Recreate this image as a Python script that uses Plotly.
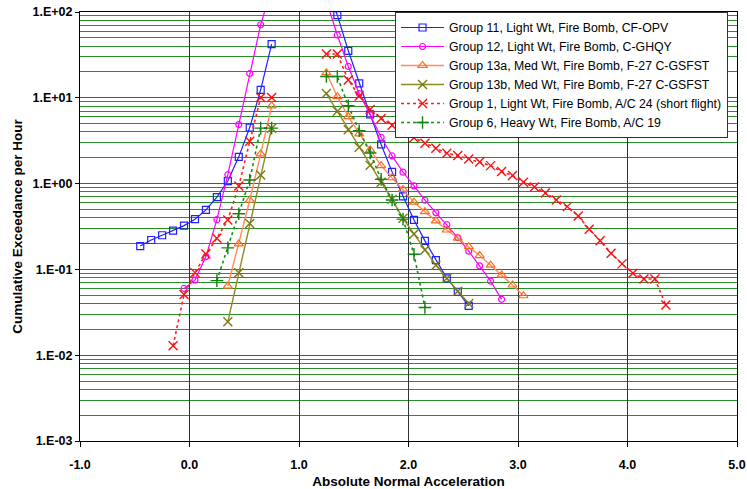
import plotly.graph_objects as go

# ---------------- data ----------------
g11_left_x = [-0.45, -0.35, -0.25, -0.15, -0.05, 0.05, 0.15, 0.25, 0.35, 0.45, 0.55, 0.65, 0.75]
g11_left_y = [0.187, 0.22, 0.25, 0.283, 0.324, 0.385, 0.494, 0.694, 1.07, 2.05, 4.5, 12.4, 42.3]
g11_right_x = [1.25, 1.35, 1.45, 1.55, 1.65, 1.75, 1.85, 1.95, 2.05, 2.15, 2.25, 2.35, 2.45, 2.55]
g11_right_y = [200, 92, 35.3, 14.7, 6.4, 2.86, 1.37, 0.71, 0.377, 0.215, 0.128, 0.0787, 0.0549, 0.0375]

g12_left_x = [-0.05, 0.05, 0.15, 0.25, 0.35, 0.45, 0.55, 0.65, 0.75]
g12_left_y = [0.060, 0.075, 0.141, 0.38, 1.27, 4.88, 19.2, 71, 190]
g12_right_x = [1.25, 1.35, 1.45, 1.55, 1.65, 1.75, 1.85, 1.95, 2.05, 2.15, 2.25, 2.35, 2.45,
               2.55, 2.65, 2.75, 2.85]
g12_right_y = [135, 54, 23.2, 11.2, 6.3, 3.47, 2.1, 1.36, 0.94, 0.64, 0.459, 0.332, 0.235,
               0.163, 0.110, 0.073, 0.0448]

g13a_left_x = [0.35, 0.45, 0.55, 0.65, 0.75]
g13a_left_y = [0.064, 0.198, 0.64, 2.22, 8.07]
g13a_right_x = [1.25, 1.35, 1.45, 1.55, 1.65, 1.75, 1.85, 1.95, 2.05, 2.15, 2.25, 2.35, 2.45,
                2.55, 2.65, 2.75, 2.85, 2.95, 3.05]
g13a_right_y = [19.6, 10.3, 6.05, 3.8, 2.47, 1.62, 1.17, 0.855, 0.607, 0.471, 0.367, 0.288, 0.231,
                0.184, 0.145, 0.112, 0.086, 0.0658, 0.0493]

g13b_left_x = [0.35, 0.45, 0.55, 0.65, 0.75]
g13b_left_y = [0.0245, 0.0916, 0.343, 1.26, 4.43]
g13b_right_x = [1.25, 1.35, 1.45, 1.55, 1.65, 1.75, 1.85, 1.95, 2.05, 2.15, 2.25, 2.35, 2.45, 2.55]
g13b_right_y = [11.2, 6.95, 4.25, 2.65, 1.64, 1.04, 0.655, 0.394, 0.259, 0.168, 0.112, 0.0787,
                0.0556, 0.040]

g1_left_x = [-0.15, -0.05, 0.05, 0.15, 0.25, 0.35, 0.45, 0.55, 0.65, 0.75]
g1_left_y = [0.0129, 0.051, 0.0917, 0.151, 0.231, 0.377, 0.94, 3.12, 10.1, 10.1]
g1_right_x = [1.25, 1.35, 1.45, 1.55, 1.65, 1.75, 1.85, 1.95, 2.05, 2.15, 2.25, 2.35, 2.45,
              2.55, 2.65, 2.75, 2.85, 2.95, 3.05, 3.15, 3.25, 3.35, 3.45, 3.55, 3.65, 3.75,
              3.85, 3.95, 4.05, 4.15, 4.25, 4.35]
g1_right_y = [32.4, 32.4, 16.1, 10.5, 7.3, 5.75, 4.78, 3.99, 3.42, 2.95, 2.59, 2.26, 2.12,
              1.93, 1.78, 1.62, 1.38, 1.24, 1.04, 0.91, 0.776, 0.645, 0.539, 0.42, 0.294, 0.216,
              0.154, 0.116, 0.090, 0.0773, 0.0773, 0.0385]

g6_left_x = [0.25, 0.35, 0.45, 0.55, 0.65, 0.75]
g6_left_y = [0.074, 0.178, 0.446, 1.10, 4.43, 4.43]
g6_right_x = [1.25, 1.35, 1.45, 1.55, 1.65, 1.75, 1.85, 1.95, 2.05, 2.15]
g6_right_y = [17.7, 17.7, 8.07, 4.13, 2.27, 1.12, 0.645, 0.385, 0.15, 0.036]

series_names = [
    "Group 11, Light Wt, Fire Bomb, CF-OPV",
    "Group 12, Light Wt, Fire Bomb, C-GHQY",
    "Group 13a, Med Wt, Fire Bomb, F-27 C-GSFST",
    "Group 13b, Med Wt, Fire Bomb, F-27 C-GSFST",
    "Group 1, Light Wt, Fire Bomb, A/C 24 (short flight)",
    "Group 6, Heavy Wt, Fire Bomb, A/C 19",
]

y_tick_vals = [1e-3, 1e-2, 1e-1, 1e0, 1e1, 1e2]
y_tick_text = ["1.E-03", "1.E-02", "1.E-01", "1.E+00", "1.E+01", "1.E+02"]
x_tick_vals = [-1, 0, 1, 2, 3, 4, 5]
x_tick_text = ["-1.0", "0.0", "1.0", "2.0", "3.0", "4.0", "5.0"]

# ---------------- styles ----------------
styles = [
    dict(line=dict(color="#2020FF", width=1.2),
         marker=dict(symbol="square-open", size=7, color="#2020FF", line=dict(width=1.2))),
    dict(line=dict(color="#FF00FF", width=1.2),
         marker=dict(symbol="circle-open", size=6, color="#FF00FF", line=dict(width=1.2))),
    dict(line=dict(color="#FF8C5A", width=1.4),
         marker=dict(symbol="triangle-up-open", size=8, color="#FF6A20", line=dict(width=1.2))),
    dict(line=dict(color="#8C8C20", width=1.4),
         marker=dict(symbol="x-thin", size=9, color="#7A7A10", line=dict(width=1.4, color="#7A7A10"))),
    dict(line=dict(color="#FF2020", width=1.6, dash="dot"),
         marker=dict(symbol="x-thin", size=9, color="#FF1010", line=dict(width=1.4, color="#FF1010"))),
    dict(line=dict(color="#129012", width=1.6, dash="dot"),
         marker=dict(symbol="cross-thin", size=9, color="#108010", line=dict(width=1.4, color="#108010"))),
]

data = [
    (g11_left_x, g11_left_y, g11_right_x, g11_right_y),
    (g12_left_x, g12_left_y, g12_right_x, g12_right_y),
    (g13a_left_x, g13a_left_y, g13a_right_x, g13a_right_y),
    (g13b_left_x, g13b_left_y, g13b_right_x, g13b_right_y),
    (g1_left_x, g1_left_y, g1_right_x, g1_right_y),
    (g6_left_x, g6_left_y, g6_right_x, g6_right_y),
]

fig = go.Figure()
for name, (lx, ly, rx, ry), st in zip(series_names, data, styles):
    fig.add_trace(go.Scatter(
        x=list(lx) + [None] + list(rx),
        y=list(ly) + [None] + list(ry),
        mode="lines+markers",
        name=name,
        connectgaps=False,
        line=st["line"],
        marker=st["marker"],
    ))

FONT = "Arial, Liberation Sans, sans-serif"

fig.update_layout(
    width=747, height=489,
    margin=dict(l=80, r=10, t=12, b=48),
    paper_bgcolor="white",
    plot_bgcolor="white",
    font=dict(family=FONT, size=12, color="black"),
    showlegend=True,
    legend=dict(
        x=0.4795, y=1.0, xanchor="left", yanchor="top",
        bgcolor="white", bordercolor="#333333", borderwidth=1,
        font=dict(family=FONT, size=12.3, color="black"),
        itemwidth=43, tracegroupgap=0,
    ),
    xaxis=dict(
        range=[-1, 5],
        automargin=False,
        tickvals=x_tick_vals, ticktext=x_tick_text,
        tickfont=dict(family=FONT, size=12.5, weight="bold"),
        showgrid=True, gridcolor="#333333", gridwidth=1,
        zeroline=False,
        showline=True, linecolor="black", linewidth=1, mirror=True,
        ticks="outside", ticklen=5, tickcolor="black",
        ticklabelstandoff=7,
        title=dict(text="Absolute Normal Acceleration",
                   font=dict(family=FONT, size=13.5, weight="bold"), standoff=6),
    ),
    yaxis=dict(
        type="log", range=[-3, 2],
        automargin=False,
        tickvals=y_tick_vals, ticktext=y_tick_text,
        tickfont=dict(family=FONT, size=12.5, weight="bold"),
        showgrid=True, gridcolor="#555555", gridwidth=1,
        zeroline=False,
        showline=True, linecolor="black", linewidth=1, mirror=True,
        ticks="outside", ticklen=4, tickcolor="black",
        minor=dict(dtick="D1", showgrid=True, gridcolor="#2a8f2a", gridwidth=1, ticks=""),
        title=dict(text="Cumulative Exceedance per Hour",
                   font=dict(family=FONT, size=13.5, weight="bold"), standoff=6),
    ),
)

fig.write_html("out.html")
